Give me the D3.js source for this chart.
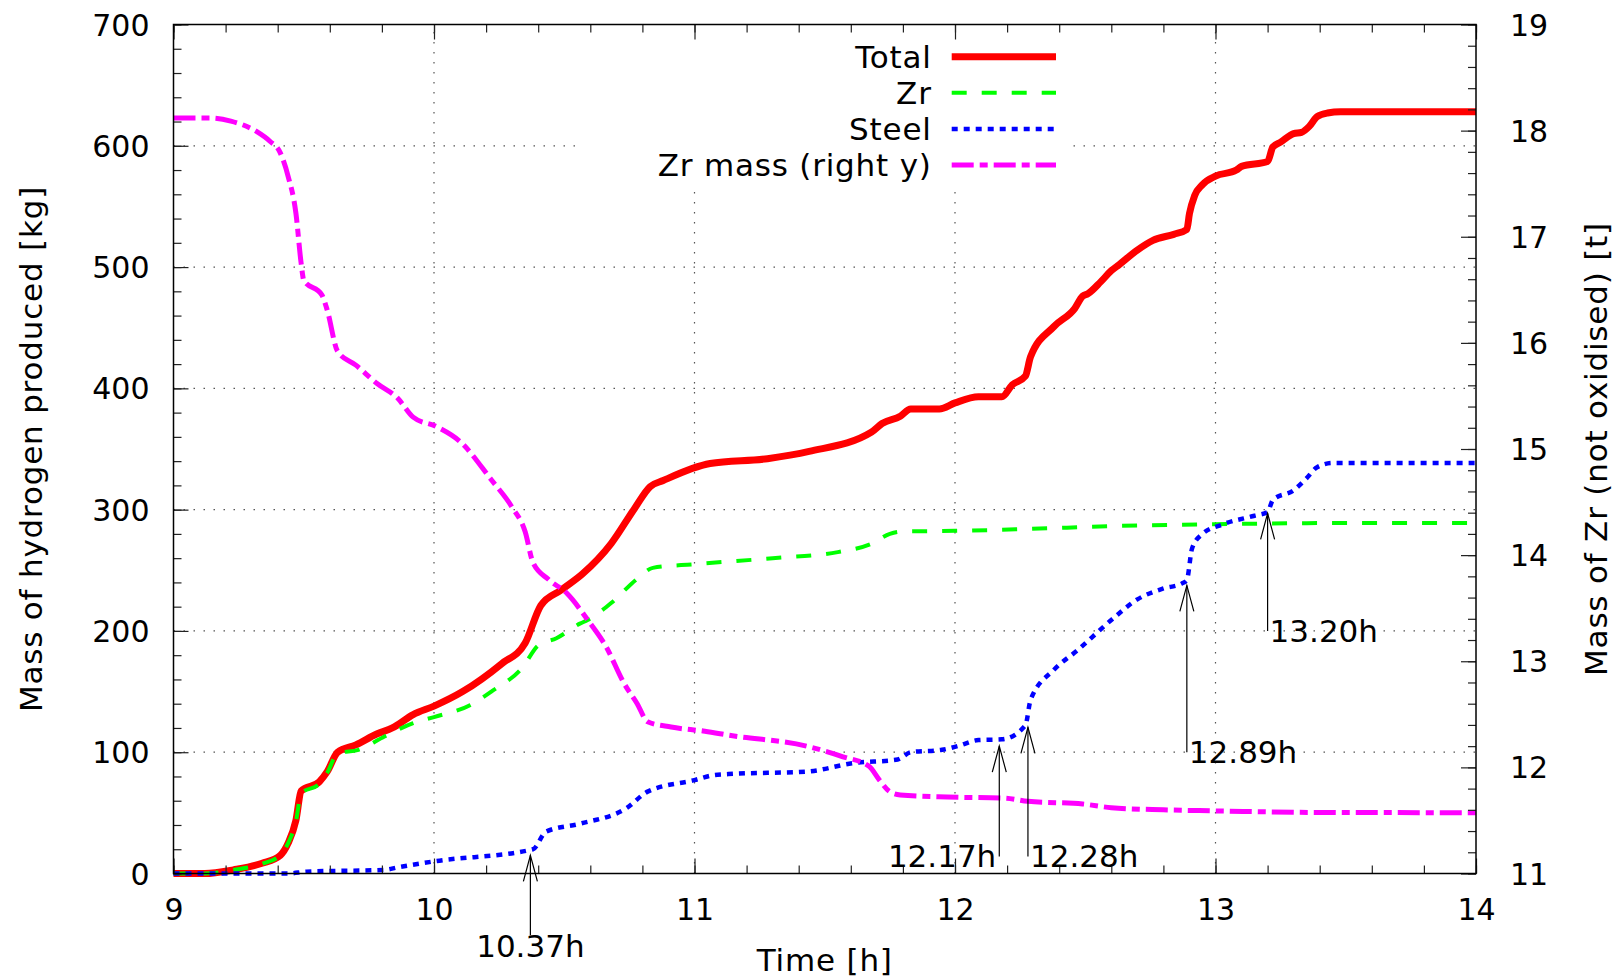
<!DOCTYPE html>
<html>
<head>
<meta charset="utf-8">
<script src="https://cdn.jsdelivr.net/npm/d3@7"></script>
<style>
  body { margin: 0; background: #fff; }
  text { font-family: "DejaVu Sans", sans-serif; }
  .word { font-size: 31px; letter-spacing: 0.8px; }
</style>
</head>
<body>
<div id="chart"></div>
<script>
// hydrogen produced, total [kg]
var totalT = [9.0, 9.12, 9.23, 9.34, 9.41, 9.44, 9.47, 9.49, 9.56, 9.59, 9.63, 9.70, 9.78, 9.84, 9.92, 10.0, 10.11, 10.26, 10.35, 10.41, 10.49, 10.57, 10.68, 10.77, 10.83, 10.88, 11.06, 11.28, 11.44, 11.68, 11.72, 11.79, 11.83, 11.94, 12.0, 12.09, 12.18, 12.22, 12.27, 12.29, 12.38, 12.46, 12.49, 12.51, 12.56, 12.6, 12.63, 12.7, 12.76, 12.84, 12.89, 12.90, 12.92, 12.95, 13.0, 13.08, 13.1, 13.2, 13.22, 13.25, 13.3, 13.33, 13.36, 13.39, 13.43, 13.48, 14.0];
var totalV = [0, 0, 3, 8.4, 15, 25, 44, 68, 75.7, 84, 100, 106, 115, 120, 131, 138, 150, 173, 190, 221, 234, 247, 272, 301, 319, 324, 338, 342, 348, 364, 371, 377, 383, 383, 388, 393, 393, 403, 410, 426, 451, 466, 476, 478, 488, 497, 502, 514, 522, 527, 531, 544, 559, 568, 575, 580, 583, 587, 599, 603, 610, 611, 616, 624, 627, 628, 628];

// from Zr [kg]
var zrT = [9.0, 9.12, 9.23, 9.34, 9.41, 9.44, 9.47, 9.49, 9.56, 9.59, 9.63, 9.71, 9.81, 9.92, 10.0, 10.14, 10.22, 10.34, 10.40, 10.47, 10.56, 10.59, 10.68, 10.78, 10.84, 11.0, 11.3, 11.55, 11.68, 11.75, 11.8, 12.0, 12.27, 12.62, 13.0, 13.5, 14.0];
var zrV = [0, 0, 3, 8, 15, 25, 43, 66, 74, 83, 99, 102, 113, 124, 129, 139, 150, 170, 188, 194, 206, 209, 223, 243, 252, 255, 260, 265, 272, 280, 282, 282.5, 284, 286.5, 288, 289, 289];

// from steel [kg]
var steelT = [9.0, 9.44, 9.51, 9.81, 9.86, 10.0, 10.38, 10.43, 10.56, 10.74, 10.82, 11.0, 11.07, 11.13, 11.43, 11.61, 11.78, 11.83, 11.95, 12.01, 12.09, 12.18, 12.27, 12.29, 12.38, 12.47, 12.6, 12.7, 12.8, 12.87, 12.89, 12.91, 12.95, 13.03, 13.15, 13.2, 13.22, 13.3, 13.35, 13.39, 13.45, 14.0];
var steelV = [0, 0, 1.5, 3, 5, 10, 20, 34.5, 41, 54, 67.5, 77, 81, 82, 84, 91, 94, 100, 102, 105, 110, 110.6, 122, 143, 168, 184, 209, 226, 235, 239, 242, 268, 280, 288, 295, 298, 308, 316, 326, 335, 338.5, 338.5];

// Zr not oxidised [t] (right axis)
var zrMassT = [9.0, 9.14, 9.22, 9.32, 9.37, 9.41, 9.44, 9.47, 9.49, 9.50, 9.57, 9.59, 9.63, 9.70, 9.78, 9.86, 9.92, 10.01, 10.1, 10.22, 10.3, 10.35, 10.38, 10.44, 10.51, 10.59, 10.66, 10.73, 10.78, 10.82, 10.91, 11.04, 11.14, 11.43, 11.57, 11.67, 11.71, 11.75, 11.79, 11.97, 12.19, 12.28, 12.49, 12.6, 12.8, 13.0, 13.4, 14.0];
var zrMassV = [18.12, 18.12, 18.09, 17.99, 17.9, 17.79, 17.57, 17.22, 16.75, 16.59, 16.45, 16.31, 15.92, 15.79, 15.62, 15.48, 15.30, 15.21, 15.07, 14.71, 14.45, 14.22, 13.93, 13.77, 13.64, 13.39, 13.14, 12.79, 12.60, 12.43, 12.38, 12.34, 12.30, 12.20, 12.10, 12.01, 11.88, 11.77, 11.74, 11.72, 11.71, 11.68, 11.655, 11.62, 11.60, 11.59, 11.575, 11.573];

var seriesNames = ["Total", "Zr", "Steel", "Zr mass (right y)"];

// ticks
var xTicks = [9, 10, 11, 12, 13, 14];
var yTicks = [0, 100, 200, 300, 400, 500, 600, 700];
var y2Ticks = [11, 12, 13, 14, 15, 16, 17, 18, 19];

// annotations: time, arrow tip, arrow tail, label centre (left axis units)
var annT = [10.37, 12.17, 12.28, 12.89, 13.20];
var annTip = [15, 105, 120.5, 237.5, 297];
var annTail = [-51, 14, 14, 100, 200];
var annLabelV = [-60, 14, 14, 100, 200];
var annLabel = ["10.37h", "12.17h", "12.28h", "12.89h", "13.20h"];
var annAnchor = ["middle", "end", "start", "start", "start"];

var width = 1619, height = 979;
var pLeft = 173.5, pRight = 1476, pTop = 24.5, pBottom = 873.5;

var svg = d3.select("#chart").append("svg")
  .attr("width", width)
  .attr("height", height);

var x = d3.scaleLinear().domain([9, 14]).range([pLeft, pRight]);
var y = d3.scaleLinear().domain([0, 700]).range([pBottom, pTop]);
var y2 = d3.scaleLinear().domain([11, 19]).range([pBottom, pTop]);

function minors(scale, step) {
  var d = scale.domain(), out = [];
  for (var v = d[0]; v <= d[1] + 1e-9; v += step) out.push(+v.toFixed(3));
  return out;
}

// grid
var grid = svg.append("g").attr("stroke", "#555").attr("stroke-width", 1.2).attr("stroke-dasharray", "1.5,8.5");
grid.selectAll(".gx").data(xTicks.slice(1, -1)).enter().append("line")
  .attr("x1", function(d) { return x(d); }).attr("x2", function(d) { return x(d); })
  .attr("y1", pBottom).attr("y2", pTop);
grid.selectAll(".gy").data(yTicks.slice(1, -1)).enter().append("line")
  .attr("x1", pLeft).attr("x2", pRight)
  .attr("y1", function(d) { return y(d); }).attr("y2", function(d) { return y(d); });

// opaque key background
svg.append("rect").attr("x", 575).attr("y", pTop + 1).attr("width", 498).attr("height", 160).attr("fill", "#fff");

// curves
var styles = [
  { color: "#ff0000", w: 7, dash: null },
  { color: "#00ff00", w: 4, dash: "15,15" },
  { color: "#0000ff", w: 4.5, dash: "6,6" },
  { color: "#ff00ff", w: 5, dash: "22,6,8,6" }
];

function zipT(ts, vs) { return ts.map(function(t, i) { return [t, vs[i]]; }); }

var series = [
  { pts: zipT(totalT, totalV), ys: y },
  { pts: zipT(zrT, zrV), ys: y },
  { pts: zipT(steelT, steelV), ys: y },
  { pts: zipT(zrMassT, zrMassV), ys: y2 }
];

series.forEach(function(s, i) {
  var line = d3.line()
    .x(function(d) { return x(d[0]); })
    .y(function(d) { return s.ys(d[1]); })
    .curve(d3.curveMonotoneX);
  svg.append("path")
    .attr("d", line(s.pts))
    .attr("fill", "none")
    .attr("stroke", styles[i].color)
    .attr("stroke-width", styles[i].w)
    .attr("stroke-linejoin", "round")
    .attr("stroke-dasharray", styles[i].dash);
});

// axes
function styleAxis(g) {
  g.select(".domain").remove();
  g.selectAll(".tick line").attr("stroke", "#222").attr("stroke-width", 1.2);
  g.selectAll(".tick text").attr("font-size", 30).attr("fill", "#000").attr("font-family", "DejaVu Sans");
}

svg.append("g").attr("transform", "translate(" + pLeft + ",0)")
  .call(d3.axisLeft(y).tickValues(minors(y, 20)).tickSize(-8).tickFormat(""))
  .call(styleAxis);
svg.append("g").attr("transform", "translate(" + pLeft + ",0)")
  .call(d3.axisLeft(y).tickValues(yTicks).tickSize(-15).tickPadding(24).tickFormat(d3.format("d")))
  .call(styleAxis)
  .selectAll(".tick text").attr("dy", "0.35em");

svg.append("g").attr("transform", "translate(" + pRight + ",0)")
  .call(d3.axisRight(y2).tickValues(minors(y2, 0.2)).tickSize(-8).tickFormat(""))
  .call(styleAxis);
svg.append("g").attr("transform", "translate(" + pRight + ",0)")
  .call(d3.axisRight(y2).tickValues(y2Ticks).tickSize(-15).tickPadding(34).tickFormat(d3.format("d")))
  .call(styleAxis)
  .selectAll(".tick text").attr("dy", "0.35em");

[pBottom, pTop].forEach(function(pos) {
  var mk = pos === pBottom ? d3.axisBottom : d3.axisTop;
  svg.append("g").attr("transform", "translate(0," + pos + ")")
    .call(mk(x).tickValues(minors(x, 0.2)).tickSize(-8).tickFormat(""))
    .call(styleAxis);
  svg.append("g").attr("transform", "translate(0," + pos + ")")
    .call(mk(x).tickValues(xTicks).tickSize(-15).tickPadding(25).tickFormat(pos === pBottom ? d3.format("d") : ""))
    .call(styleAxis);
});

// frame
svg.append("rect").attr("x", pLeft).attr("y", pTop).attr("width", pRight - pLeft).attr("height", pBottom - pTop)
  .attr("fill", "none").attr("stroke", "#000").attr("stroke-width", 1.5);

// axis titles
svg.append("text").attr("class", "word").attr("x", (pLeft + pRight) / 2).attr("y", 971)
  .attr("text-anchor", "middle").text("Time [h]");
svg.append("text").attr("class", "word").attr("transform", "translate(41.5," + (pTop + pBottom) / 2 + ") rotate(-90)")
  .attr("text-anchor", "middle").text("Mass of hydrogen produced [kg]");
svg.append("text").attr("class", "word").attr("transform", "translate(1607," + (pTop + pBottom) / 2 + ") rotate(-90)")
  .attr("text-anchor", "middle").text("Mass of Zr (not oxidised) [t]");

// annotations
var ann = svg.append("g");
annT.forEach(function(t, i) {
  var ax = x(t), tipY = y(annTip[i]), tailY = y(annTail[i]);
  ann.append("line").attr("x1", ax).attr("x2", ax).attr("y1", tailY).attr("y2", tipY)
    .attr("stroke", "#000").attr("stroke-width", 1.2);
  ann.append("path")
    .attr("d", "M" + (ax - 7) + "," + (tipY + 26) + "L" + ax + "," + tipY + "L" + (ax + 7) + "," + (tipY + 26))
    .attr("fill", "none").attr("stroke", "#000").attr("stroke-width", 1.2);
  var off = annAnchor[i] === "end" ? -3 : (annAnchor[i] === "start" ? 2 : 0);
  ann.append("text").attr("x", ax + off).attr("y", y(annLabelV[i])).attr("dy", "0.35em")
    .attr("text-anchor", annAnchor[i]).attr("font-size", 31).text(annLabel[i]);
});

// legend
var key = svg.append("g");
seriesNames.forEach(function(name, i) {
  var ky = 56.7 + i * 36.1;
  key.append("text").attr("class", "word").attr("x", 931.7).attr("y", ky).attr("dy", "0.35em")
    .attr("text-anchor", "end").text(name);
  key.append("line").attr("x1", 951.7).attr("x2", 1056).attr("y1", ky).attr("y2", ky)
    .attr("stroke", styles[i].color).attr("stroke-width", styles[i].w)
    .attr("stroke-dasharray", styles[i].dash);
});
</script>
</body>
</html>
